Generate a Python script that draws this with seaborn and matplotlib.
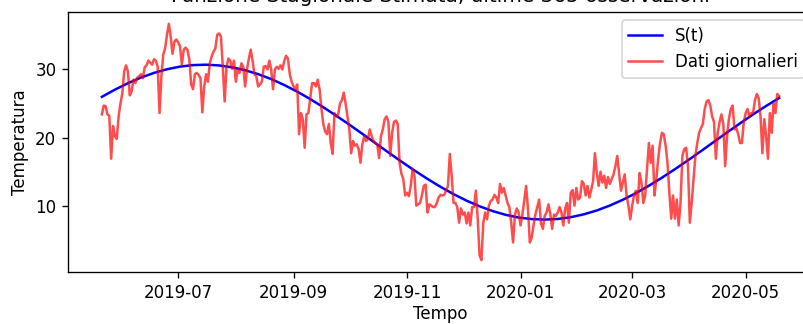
import matplotlib
matplotlib.use("Agg")
import matplotlib.pyplot as plt
import seaborn as sns
import numpy as np
import pandas as pd

start_date = "2019-05-21"

daily_values = [
    # segment 1
    23.4, 24.7, 24.6, 23.4, 23.2, 16.9, 21.7, 20.2, 19.8, 23.1, 25.0, 26.5, 29.7, 30.6, 29.7,
    26.2, 26.8, 28.5, 28.0, 28.8, 29.0, 29.3, 28.7, 30.3, 30.6, 31.3, 31.0, 30.7, 31.5, 31.3,
    30.4, 23.6, 29.0, 32.2, 33.1, 35.1, 36.7, 34.8, 32.3, 34.1, 34.4, 34.0, 33.4, 30.7, 32.9,
    33.2, 32.9, 31.5, 27.8, 27.1, 29.3, 29.5, 29.2, 28.7, 23.7, 27.5, 29.3, 28.2, 30.9,
    # segment 2
    31.9, 32.6, 33.1, 35.1, 35.3, 34.8, 30.4, 25.3, 30.4, 31.6, 31.3, 30.1, 31.3, 28.2, 30.0,
    29.5, 30.9, 30.4, 27.5, 30.0, 31.6, 32.9, 31.3, 29.3, 29.0, 27.5, 27.8, 28.2, 30.4, 30.5,
    30.0, 31.3, 30.0, 27.1, 30.0, 30.4, 30.1, 30.6, 30.0, 31.2, 32.0, 31.6, 29.3, 28.2, 27.5,
    27.1, 27.8, 20.5, 23.6, 22.7, 18.5, 23.4, 23.6, 25.8, 28.0, 28.0, 27.5, 28.5, 27.1, 24.3,
    22.0, 20.9,
    # segment 3
    20.5, 22.0, 19.2, 17.6, 23.6, 23.1, 23.4, 25.0, 25.5, 26.6, 25.0, 23.1, 21.2, 17.7, 19.5,
    18.8, 19.0, 18.3, 16.3, 19.0, 20.2, 19.5, 19.8, 21.2, 20.2, 19.5, 19.2, 19.0, 17.0, 20.2,
    21.2, 22.7, 23.1, 22.3, 17.3, 20.7, 22.3, 22.5, 22.0, 16.3, 14.7, 13.9, 11.5, 11.9, 11.4,
    12.9, 15.4, 14.4, 10.0, 10.2, 10.4, 11.5, 12.9, 13.1, 9.0, 10.2, 10.0, 9.8, 9.8, 10.4,
    11.2, 11.6,
    # segment 4
    11.5, 11.6, 12.2, 12.9, 17.6, 14.4, 10.4, 10.4, 9.8, 7.5, 9.6, 8.7, 9.0, 7.4, 9.0,
    7.1, 9.8, 9.8, 12.2, 8.1, 2.7, 2.0, 7.5, 9.0, 8.0, 10.0, 10.7, 10.9, 11.6, 11.2,
    10.4, 13.2, 11.9, 12.6, 11.5, 10.4, 9.8, 7.5, 4.6, 8.7, 9.6, 9.0, 7.1, 8.7, 10.7,
    12.9, 9.6, 4.6, 5.3, 7.1, 8.7, 9.8, 10.9, 7.4, 6.6, 8.5, 9.0, 10.2, 8.8, 6.6,
    8.7, 8.5,
    # segment 5
    9.0, 9.8, 9.0, 7.1, 9.6, 10.4, 7.5, 11.9, 12.3, 10.0, 12.6, 10.9, 11.2, 13.6, 13.2,
    11.5, 12.9, 11.2, 12.3, 13.6, 17.7, 14.8, 12.9, 15.0, 13.4, 14.4, 12.6, 14.2, 13.2, 13.9,
    14.6, 15.8, 17.3, 14.8, 12.2, 13.4, 14.6, 11.5, 10.0, 8.0, 10.0, 11.5, 12.2, 10.4, 14.8,
    13.4, 10.4, 11.5, 15.4, 19.2, 16.3, 18.8, 11.5, 13.9, 16.9, 19.2, 20.7, 20.5, 18.8, 16.3,
    11.9, 8.1,
    # segment 6
    11.5, 8.1, 10.9, 7.1, 10.4, 17.3, 18.3, 18.5, 15.8, 7.5, 10.4, 13.9, 17.3, 19.2, 20.7,
    21.4, 22.0, 24.2, 25.3, 25.5, 24.7, 23.1, 22.3, 16.9, 20.7, 22.3, 23.4, 22.0, 15.8, 20.2,
    22.7, 24.2, 24.7, 21.2, 21.4, 20.5, 19.2, 19.2, 22.3, 23.6, 24.2, 23.1, 23.6, 23.6, 25.5,
    26.4, 25.8, 23.1, 17.7, 22.7, 20.2, 16.9, 23.6, 20.7, 25.0, 23.6, 26.4, 26.1,
]

# Estimated seasonal function S(t), read weekly
seasonal_values = [
    25.98, 27.03, 27.98, 28.81, 29.49, 30.03, 30.42, 30.64, 30.70, 30.59,
    30.32, 29.89, 29.31, 28.59, 27.72, 26.74, 25.65, 24.46, 23.20, 21.90,
    20.55, 19.18, 17.82, 16.47, 15.17, 13.93, 12.77, 11.70, 10.74, 9.91,
    9.21, 8.66, 8.26, 8.03, 7.96, 8.05, 8.31, 8.73, 9.30, 10.02,
    10.87, 11.84, 12.93, 14.11, 15.36, 16.66, 18.01, 19.38, 20.75, 22.09,
    23.40, 24.64, 25.81,
]

y_ticks = [10, 20, 30]

title = "Funzione Stagionale Stimata, ultime 365 osservazioni"
xlabel = "Tempo"
ylabel = "Temperatura"
label_s = "S(t)"
label_d = "Dati giornalieri"

daily_dates = pd.date_range(start_date, periods=len(daily_values), freq="D")
seasonal_dates = pd.date_range(start_date, periods=len(seasonal_values), freq="7D")

DPI = 120
fig = plt.figure(figsize=(803 / DPI, 324 / DPI), dpi=DPI)
# axes extend past the right edge, as in the (cropped) reference
ax = fig.add_axes([68 / 803, 1 - 272 / 324, (813 - 68) / 803, (272 - 12) / 324])

sns.lineplot(x=seasonal_dates, y=seasonal_values, color="blue", label=label_s, ax=ax)
sns.lineplot(x=daily_dates, y=daily_values, color="red", alpha=0.7, label=label_d, ax=ax)

ax.set_yticks(y_ticks)
ax.set_title(title)
ax.set_xlabel(xlabel, labelpad=2.2)
ax.set_ylabel(ylabel)
ax.legend(loc="upper right")

fig.savefig("out.png", dpi=DPI)
